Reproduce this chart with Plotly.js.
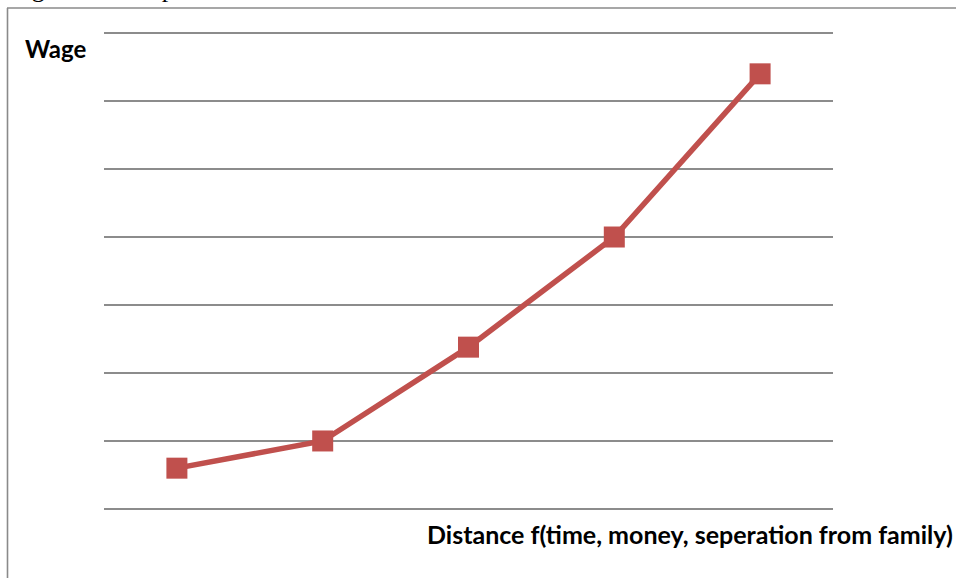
<!DOCTYPE html>
<html>
<head>
<meta charset="utf-8">
<script src="https://cdn.plot.ly/plotly-3.0.1.min.js"></script>
<style>
  html, body { margin: 0; padding: 0; background: #ffffff; }
  #chart { width: 956px; height: 578px; }
</style>
</head>
<body>
<div id="chart"></div>
<script>
// Wage rises with distance (time, money, separation from family)
const distanceSteps = [1, 2, 3, 4, 5];
const wage = [0.6, 1.0, 2.38, 4.0, 6.4];

const lineColor = '#C0504D';
const gridColor = '#8c8c8c';

// plot area in pixels
const L = 104, R = 123, T = 31, B = 67;
const W = 956, H = 578;
const pw = W - L - R, ph = H - T - B;
const px = x => (x - L) / pw;          // pixel x -> paper x
const py = y => (H - B - y) / ph;      // pixel y -> paper y

const trace = {
  x: distanceSteps,
  y: wage,
  type: 'scatter',
  mode: 'lines+markers',
  line: { color: lineColor, width: 5.5 },
  marker: { symbol: 'square', size: 21, color: lineColor, line: { width: 0 } },
  hoverinfo: 'skip'
};

const layout = {
  width: W,
  height: H,
  margin: { l: L, r: R, t: T, b: B, pad: 0 },
  paper_bgcolor: '#ffffff',
  plot_bgcolor: '#ffffff',
  showlegend: false,
  xaxis: {
    range: [0.5, 5.5],
    showgrid: false,
    zeroline: false,
    showticklabels: false,
    ticks: '',
    showline: false
  },
  yaxis: {
    range: [-0.03, 7.03],
    dtick: 1,
    tick0: 0,
    showgrid: true,
    gridcolor: gridColor,
    gridwidth: 1.6,
    zeroline: false,
    showticklabels: false,
    ticks: '',
    showline: false
  },
  shapes: [
    // outer frame, left and top edges
    { type: 'line', xref: 'paper', yref: 'paper', x0: px(7.5), x1: px(7.5), y0: py(8), y1: py(580),
      line: { color: '#8a8a8a', width: 1.6 } },
    { type: 'line', xref: 'paper', yref: 'paper', x0: px(7), x1: px(960), y0: py(8), y1: py(8),
      line: { color: '#8a8a8a', width: 1.6 } }
  ],
  annotations: [
    { text: 'Wage', xref: 'paper', yref: 'paper', x: px(23), y: py(49),
      xanchor: 'left', yanchor: 'middle', showarrow: false,
      font: { family: 'Lato, sans-serif', size: 24, color: '#000000', weight: 700 } },
    { text: 'Distance f(time, money, seperation from family)', xref: 'paper', yref: 'paper',
      x: px(425), y: py(534), xanchor: 'left', yanchor: 'middle', showarrow: false,
      font: { family: 'Lato, sans-serif', size: 25, color: '#000000', weight: 700 } },
    { text: 'Figure 2: Compensation', xref: 'paper', yref: 'paper',
      x: px(8), y: py(5.5), xanchor: 'left', yanchor: 'bottom', showarrow: false,
      font: { family: 'Liberation Serif, serif', size: 26, color: '#000000' } }
  ]
};

Plotly.newPlot('chart', [trace], layout, { displayModeBar: false, staticPlot: true });
</script>
</body>
</html>
